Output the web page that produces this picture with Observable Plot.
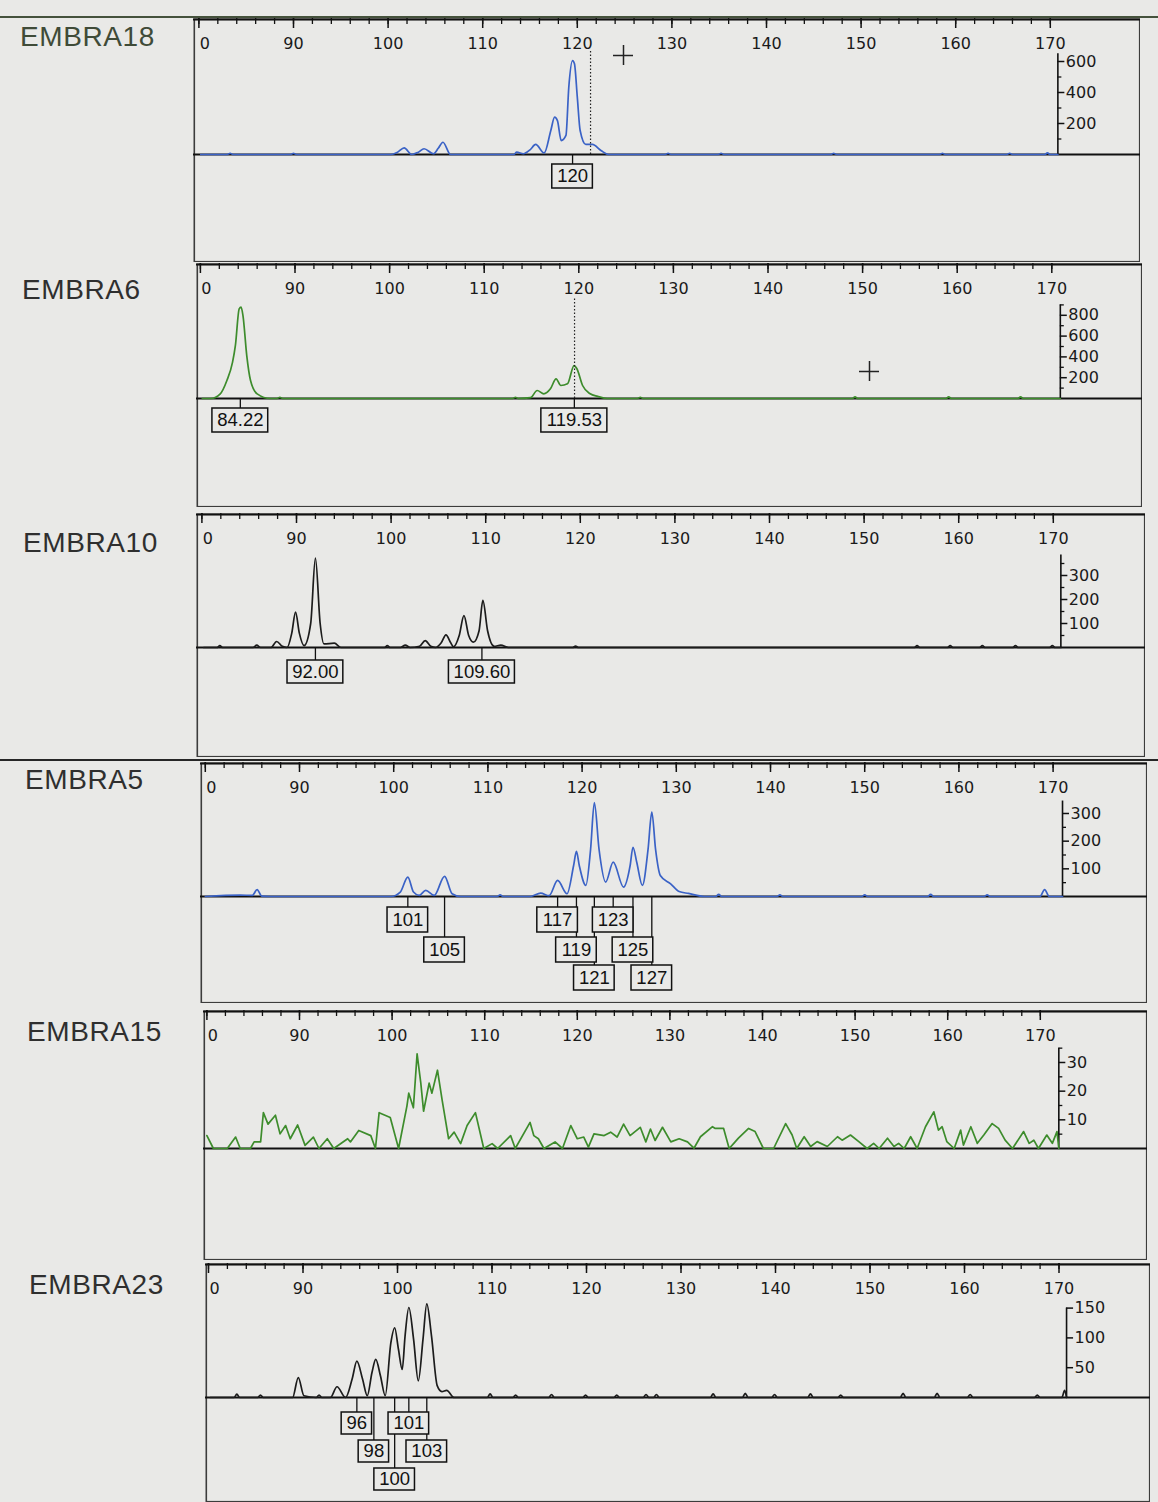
<!DOCTYPE html>
<html><head><meta charset="utf-8">
<script src="https://cdn.jsdelivr.net/npm/d3@7"></script>
<script src="https://cdn.jsdelivr.net/npm/@observablehq/plot@0.6"></script>
<style>
html,body{margin:0;padding:0;background:#e9e9e7;}
#page{position:relative;width:1158px;height:1502px;overflow:hidden;background:#e9e9e7;}
.name{position:absolute;font-family:"Liberation Sans",Arial,sans-serif;font-size:28px;letter-spacing:0.6px;line-height:30px;color:#2f2f2f;white-space:nowrap;}
.hline{position:absolute;left:0;width:1158px;height:2px;}
.panel{position:absolute;overflow:hidden;}
</style></head><body><div id="page"></div>
<script>
// ---------- data ----------
const sampleNames = ["EMBRA18","EMBRA6","EMBRA10","EMBRA5","EMBRA15","EMBRA23"];
const xMajorTicks = [80,90,100,110,120,130,140,150,160,170];
const xTickLabels = ["0","90","100","110","120","130","140","150","160","170"];
const xMinorTicks = d3.range(80,171,2);

const emb18X = [80.2,83.0,83.3,83.6,89.7,90.0,90.3,100.3,101.0,101.7,102.5,103.2,103.8,104.8,105.3,105.8,106.6,113.3,113.6,114.3,115.0,115.6,116.5,117.2,117.6,117.9,118.3,118.8,119.1,119.5,119.7,120.0,120.3,120.9,121.6,122.5,123.3,129.3,129.6,129.9,134.9,135.2,135.5,146.8,147.1,147.4,158.3,158.6,158.9,165.4,165.7,166.0,169.4,169.7,170.0,170.8];
const emb18Y = [0,0,8,0,0,8,0,0,15,43,0,15,37,5,40,79,0,0,15,5,30,65,10,155,241,219,90,123,434,606,585,370,155,65,65,26,0,0,8,0,0,8,0,0,8,0,0,8,0,0,8,0,0,10,0,0];
const emb18Calls = ["120"], emb18CallPos = [119.5], emb18CallRow = [0];

const emb6X = [80.2,81.1,82.1,82.8,83.4,83.7,84.1,84.3,84.5,84.9,85.3,86.0,87.4,88.1,88.4,88.7,111.7,113.0,113.3,113.6,114.9,115.6,116.3,117.0,117.6,118.1,118.8,119.5,119.8,120.4,121.2,122.0,123.0,126.2,126.5,126.8,148.9,149.2,149.5,158.8,159.1,159.4,166.4,166.7,167.0,170.9];
const emb6Y = [0,0,45,173,349,510,862,878,798,413,173,45,0,0,12,0,0,0,12,0,8,77,45,93,189,125,141,317,286,125,45,20,0,0,12,0,0,15,0,0,15,0,0,15,0,0];
const emb6Calls = ["84.22","119.53"], emb6CallPos = [84.22,119.53], emb6CallRow = [0,0];

const emb10X = [80.2,81.6,81.9,82.2,85.4,85.8,86.2,87.3,87.9,88.5,89.0,89.5,89.9,90.3,90.8,91.5,92.0,92.5,92.9,94.0,94.7,99.3,99.6,99.9,101.0,101.5,102.0,103.0,103.6,104.2,104.7,105.3,105.8,106.3,106.6,107.2,107.7,108.2,108.7,109.3,109.7,110.2,110.9,111.6,112.4,119.2,119.5,119.8,155.3,155.6,155.9,158.8,159.1,159.4,162.2,162.5,162.8,165.7,166.0,166.3,169.6,169.9,170.2,170.8];
const emb10Y = [0,0,8,0,0,10,0,0,25,5,0,60,147,60,8,100,372,100,15,18,0,0,8,0,0,10,0,5,29,5,0,20,53,20,3,50,133,50,22,70,196,70,5,10,0,0,6,0,0,8,0,0,8,0,0,8,0,0,8,0,0,8,0,0];
const emb10Calls = ["92.00","109.60"], emb10CallPos = [92.0,109.6], emb10CallRow = [0,0];

const emb5X = [80.0,83.7,85.0,85.5,86.0,86.9,99.7,100.7,101.5,102.1,102.7,103.4,104.3,105.4,106.2,107.1,111.0,111.3,111.6,114.5,115.6,116.5,117.4,118.4,119.1,119.4,119.7,120.4,120.9,121.3,121.8,122.5,123.3,124.4,125.1,125.4,125.8,126.4,127.0,127.4,127.8,128.3,129.4,130.3,131.3,133.0,134.2,134.5,134.8,140.7,141.0,141.3,149.7,150.0,150.3,156.7,157.0,157.3,162.7,163.0,163.3,168.6,169.1,169.6,171.0];
const emb5Y = [0,5,4,25,1,0,0,16,70,16,4,22,4,73,10,0,0,6,0,0,12,3,58,10,112,163,112,40,170,339,170,52,124,34,112,178,124,40,170,305,170,76,46,18,11,0,0,8,0,0,6,0,0,6,0,0,8,0,0,6,0,0,25,0,0];
const emb5Calls = ["101","105","117","119","121","123","125","127"];
const emb5CallPos = [101.5,105.4,117.4,119.4,121.3,123.3,125.4,127.4];
const emb5CallRow = [0,1,0,1,2,0,1,2];

const emb15X = [80.0,80.7,82.2,83.1,83.6,84.7,85.1,85.8,86.1,86.6,87.4,87.9,88.5,89.0,89.8,90.6,91.5,92.1,93.0,93.7,95.2,95.5,96.4,97.7,98.2,98.6,99.8,100.7,101.6,101.8,102.3,102.7,103.1,103.4,104.0,104.3,104.9,105.4,106.1,106.7,107.4,108.1,109.0,109.9,110.8,111.4,112.8,113.3,114.9,115.3,115.8,116.4,117.6,118.4,119.3,120.0,120.7,121.2,121.8,122.9,123.6,124.3,125.0,125.7,126.8,127.4,127.9,128.4,129.2,130.1,131.0,131.9,132.6,133.3,134.6,134.9,135.8,136.4,136.9,137.4,138.5,139.2,140.1,141.2,142.5,143.2,143.7,144.5,145.2,145.9,147.0,148.1,148.6,149.5,150.4,151.3,152.0,152.6,153.5,154.2,154.7,155.3,156.0,156.7,157.6,158.5,159.0,159.4,159.9,160.7,161.4,161.7,162.5,163.2,163.9,164.8,165.5,166.2,167.0,168.2,168.8,169.3,169.8,170.7,171.3,171.8,172.0];
const emb15Y = [4.5,0,0,4,0,0,2.3,2.3,12.5,8.5,11.6,5.1,8,3.4,8.2,1.1,4,0,3.4,0,3.4,2.3,6.3,4.5,0,12.5,10.8,0,14.8,19.3,14.2,33,22.8,13,22.8,19.3,27.3,17,3.4,5.7,1.7,8,12.5,0,1.7,0,4.5,0,9.1,4.5,3.4,0,2.3,0,8,3.4,4,0.5,5.1,4.5,5.7,4,8.5,4.5,7.4,2.3,6.8,2.8,7.4,2.3,3.4,2.3,0.1,4.1,7.6,7,7,0,1.8,3.6,7,5.9,0,0,8.7,4.7,0,4.1,0.7,2.4,0.7,4.1,2.9,4.7,2.4,0,1.8,0,3.6,0.7,1.8,0,4.1,0,7.6,12.8,6.4,7.6,2.4,0,6.4,1.2,7.6,1.8,4.7,8.7,7,2.9,0,5.9,1.8,2.9,0,4.7,1.8,5.9,0];

const emb23X = [80.2,82.7,83.0,83.3,85.2,85.5,85.8,88.9,89.5,90.1,91.4,91.7,92.0,92.9,93.6,94.5,95.2,95.7,96.3,96.8,97.3,97.7,98.2,98.7,99.3,99.7,100.1,100.5,100.8,101.2,101.7,102.2,102.7,103.1,103.6,104.2,104.7,105.2,106.0,109.5,109.8,110.1,112.2,112.5,112.8,116.0,116.3,116.6,119.6,119.9,120.2,122.9,123.2,123.5,126.0,126.3,126.6,127.1,127.4,127.7,133.1,133.4,133.7,136.5,136.8,137.1,139.6,139.9,140.2,143.4,143.7,144.0,146.6,146.9,147.2,153.2,153.5,153.8,156.8,157.1,157.4,160.3,160.6,160.9,167.4,167.7,168.0,170.3,170.6,170.8];
const emb23Y = [0,0,5.6,0,0,4,0,0,33.5,3,0,4,0,0,18,0,31,61,31,3,42,64,36,3,92,117,81,47,103,151,98,28,98,157,103,20,10,12,0,0,6,0,0,4,0,0,5,0,0,4,0,0,4,0,0,5,0,0,5,0,0,6,0,0,7,0,0,5,0,0,6,0,0,4,0,0,7,0,0,7,0,0,5,0,0,4,0,0,12,0];
const emb23Calls = ["96","98","100","101","103"];
const emb23CallPos = [95.7,97.5,99.7,101.2,103.1];
const emb23CallRow = [0,1,2,0,1];

// ---------- layout (page pixels) ----------
const BG = "#e9e9e7";
const FONT = "'DejaVu Sans', sans-serif";
const BOXFONT = "'Liberation Sans', Arial, sans-serif";
const panels = [
 {L:193,T:18,R:1140,B:262, x90:293, k:9.46, base:154, ky:0.155, color:"#3a62c6", curve:"monotone-x",
  xs:emb18X, ys:emb18Y, calls:emb18Calls, callPos:emb18CallPos, callRow:emb18CallRow,
  yAxis:170.8, yTop:650, yMajor:[200,400,600], yMinor:[100,300,500], rowOff:[10], boxH:24,
  dotted:{x:121.4, py:50}, plus:{px:623, py:55}, nameX:20, nameY:37, nameColor:"#3f4b38"},
 {L:196,T:263,R:1142,B:507, x90:294.5, k:9.46, base:398, ky:0.104, color:"#3d8c2c", curve:"monotone-x",
  xs:emb6X, ys:emb6Y, calls:emb6Calls, callPos:emb6CallPos, callRow:emb6CallRow,
  yAxis:170.9, yTop:900, yMajor:[200,400,600,800], yMinor:[100,300,500,700,900], rowOff:[10], boxH:24,
  dotted:{x:119.55, py:297}, plus:{px:869, py:371}, nameX:22, nameY:290},
 {L:196,T:513,R:1145,B:757, x90:296, k:9.46, base:647, ky:0.24, color:"#1c1c1c", curve:"monotone-x",
  xs:emb10X, ys:emb10Y, calls:emb10Calls, callPos:emb10CallPos, callRow:emb10CallRow,
  yAxis:170.8, yTop:385, yMajor:[100,200,300], yMinor:[50,150,250,350], rowOff:[13], boxH:23,
  nameX:23, nameY:543},
 {L:200,T:762,R:1147,B:1003, x90:299, k:9.42, base:896, ky:0.2767, color:"#3a62c6", curve:"monotone-x",
  xs:emb5X, ys:emb5Y, calls:emb5Calls, callPos:emb5CallPos, callRow:emb5CallRow,
  yAxis:171, yTop:345, yMajor:[100,200,300], yMinor:[50,150,250], rowOff:[11,41,69], boxH:25,
  nameX:25, nameY:780},
 {L:203,T:1010,R:1147,B:1260, x90:299, k:9.26, base:1148, ky:2.867, color:"#3d8c2c", curve:"linear",
  xs:emb15X, ys:emb15Y, calls:[], callPos:[], callRow:[],
  yAxis:172, yTop:35, yMajor:[10,20,30], yMinor:[5,15,25,35], rowOff:[10], boxH:24,
  nameX:27, nameY:1032},
 {L:205,T:1263,R:1150,B:1502, x90:302.5, k:9.45, base:1397, ky:0.596, color:"#1c1c1c", curve:"monotone-x",
  xs:emb23X, ys:emb23Y, calls:emb23Calls, callPos:emb23CallPos, callRow:emb23CallRow,
  yAxis:170.8, yTop:150, yMajor:[50,100,150], yMinor:[], rowOff:[15,43,71], boxH:22,
  nameX:29, nameY:1285}
];

const page = document.getElementById("page");

function charW(ch){ return ch === "." ? 5 : 10.2; }
function boxW(lab){ return 10 + [...lab].reduce((s,c)=>s+charW(c),0); }

function drawPanel(c, name){
  const W = c.R - c.L, H = c.B - c.T;
  const dx = px => px / c.k, dy = px => px / c.ky;
  const xv = px => 90 + (px - c.x90) / c.k;
  const yv = py => (c.base - py) / c.ky;
  const xl = xv(c.L), xr = xv(c.R), yt = yv(c.T), yb = yv(c.B);
  const pts = c.xs.map((x,i)=>({x, y:c.ys[i]}));
  const calls = c.calls.map((lab,i)=>({lab, pos:c.callPos[i], row:c.callRow[i]}));
  const off = d => c.rowOff[d.row];
  const labelTicks = xMajorTicks.map((t,i)=>({t, lab:xTickLabels[i]}));
  const marks = [
    Plot.frame({stroke:"#3c3c3c", strokeWidth:1.6, inset:0.8}),
    Plot.ruleY([yt - dy(1)], {stroke:"#111", strokeWidth:2}),
    Plot.ruleX(xMinorTicks, {x:d=>d, y1:yt, y2:yt - dy(6), stroke:"#111", strokeWidth:1.3}),
    Plot.ruleX(xMajorTicks, {x:d=>d, y1:yt, y2:yt - dy(10), stroke:"#111", strokeWidth:1.5}),
    Plot.text(labelTicks.slice(0,1), {x:"t", y:yt - dy(25), dx:6, text:"lab", fontSize:16, fontFamily:FONT, fill:"#1a1a1a"}),
    Plot.text(labelTicks.slice(1), {x:"t", y:yt - dy(25), text:"lab", fontSize:16, fontFamily:FONT, fill:"#1a1a1a"}),
    Plot.ruleY([0], {stroke:"#111", strokeWidth:2.2}),
    Plot.ruleX([c.yAxis], {y1:0, y2:c.yTop, stroke:"#111", strokeWidth:1.6}),
    Plot.ruleY(c.yMajor, {y:d=>d, x1:c.yAxis, x2:c.yAxis + dx(7), stroke:"#111", strokeWidth:1.5}),
    Plot.ruleY(c.yMinor, {y:d=>d, x1:c.yAxis, x2:c.yAxis + dx(4), stroke:"#111", strokeWidth:1.3}),
    Plot.text(c.yMajor, {x:c.yAxis, y:d=>d, dx:8, textAnchor:"start", text:d=>String(d), fontSize:16, fontFamily:FONT, fill:"#1a1a1a"}),
    Plot.line(pts, {x:"x", y:"y", stroke:c.color, strokeWidth:1.7, curve:c.curve})
  ];
  if (c.dotted) marks.push(Plot.ruleX([c.dotted.x], {y1:0, y2:yv(c.dotted.py), stroke:"#222", strokeWidth:1.2, strokeDasharray:"1.5,2"}));
  if (c.plus) {
    const px = xv(c.plus.px), py = yv(c.plus.py);
    marks.push(Plot.ruleX([px], {y1:py - dy(10), y2:py + dy(10), stroke:"#222", strokeWidth:1.5}));
    marks.push(Plot.ruleY([py], {x1:px - dx(10), x2:px + dx(10), stroke:"#222", strokeWidth:1.5}));
  }
  if (calls.length) {
    marks.push(Plot.ruleX(calls, {x:"pos", y1:0, y2:d=>-dy(off(d)), stroke:"#111", strokeWidth:1.3}));
    marks.push(Plot.rect(calls, {x1:d=>d.pos - dx(boxW(d.lab)/2), x2:d=>d.pos + dx(boxW(d.lab)/2),
      y1:d=>-dy(off(d)), y2:d=>-dy(off(d) + c.boxH), fill:BG, stroke:"#111", strokeWidth:1.5}));
    marks.push(Plot.text(calls, {x:"pos", y:d=>-dy(off(d) + c.boxH/2), text:"lab", fontSize:18.5, fontFamily:BOXFONT, fill:"#111"}));
  }
  const svg = Plot.plot({
    width:W, height:H, margin:0,
    x:{domain:[xl, xr], axis:null},
    y:{domain:[yb, yt], axis:null},
    style:{background:"transparent"},
    marks
  });
  const div = document.createElement("div");
  div.className = "panel";
  div.style.left = c.L + "px"; div.style.top = c.T + "px";
  div.style.width = W + "px"; div.style.height = H + "px";
  div.appendChild(svg);
  page.appendChild(div);

  const nm = document.createElement("div");
  nm.className = "name";
  nm.textContent = name;
  nm.style.left = c.nameX + "px";
  nm.style.top = (c.nameY - 15) + "px";
  if (c.nameColor) nm.style.color = c.nameColor;
  page.appendChild(nm);
}

panels.forEach((c,i)=>drawPanel(c, sampleNames[i]));

// scan page rules
[[16,"#45523c"],[759,"#262626"]].forEach(([y,col])=>{
  const l = document.createElement("div");
  l.className = "hline"; l.style.top = y + "px"; l.style.background = col;
  page.appendChild(l);
});
</script></body></html>
